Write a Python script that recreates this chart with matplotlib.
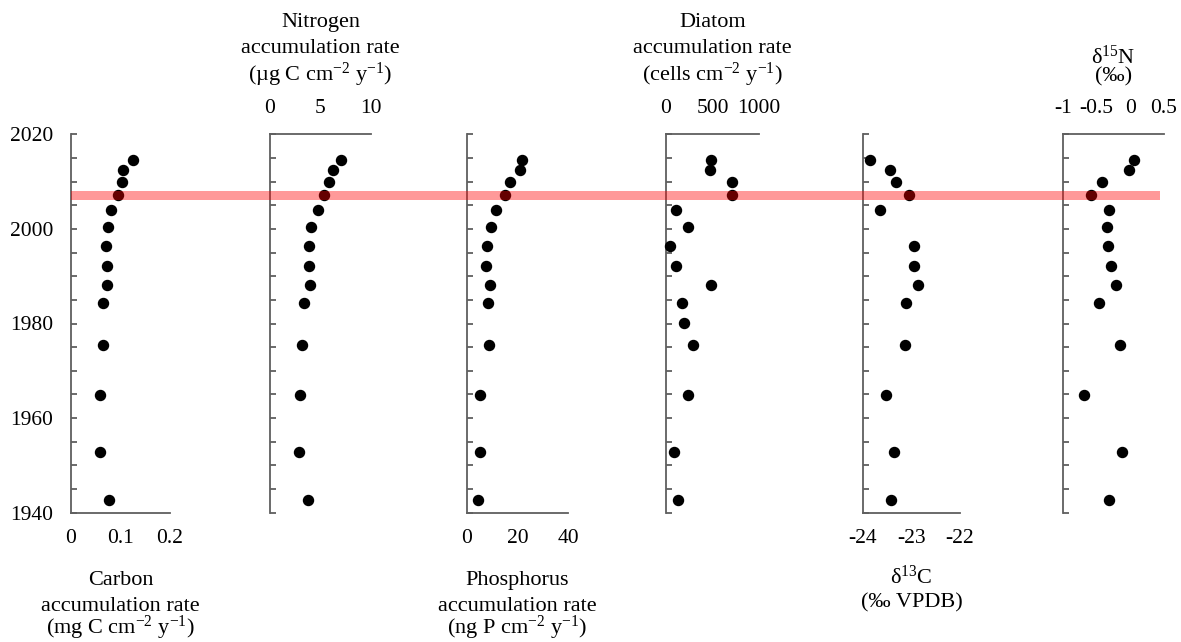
import numpy as np
import matplotlib
matplotlib.use("Agg")
import matplotlib.pyplot as plt
from matplotlib.patches import Rectangle
from matplotlib.transforms import blended_transform_factory

# sample ages (core depth -> year)
years = [2014.6, 2012.4, 2010.0, 2007.1, 2004.0, 2000.4, 1996.4, 1992.1,
         1988.2, 1984.4, 1975.4, 1964.8, 1952.9, 1942.7]
diatom_years = [2014.6, 2012.4, 2010.0, 2007.1, 2004.0, 2000.4, 1996.4, 1992.1,
                1988.2, 1984.4, 1980.1, 1975.4, 1964.8, 1952.9, 1942.7]
d13c_years = [2014.6, 2012.4, 2010.0, 2007.1, 2004.0, 1996.4, 1992.1,
              1988.2, 1984.4, 1975.4, 1964.8, 1952.9, 1942.7]

carbon = [0.126, 0.106, 0.103, 0.094, 0.081, 0.075, 0.071, 0.073, 0.072,
          0.064, 0.064, 0.059, 0.059, 0.077]
nitrogen = [7.0, 6.2, 5.8, 5.3, 4.8, 4.1, 3.9, 3.9, 4.0, 3.4, 3.2, 3.0, 2.9, 3.8]
phosphorus = [21.7, 20.8, 17.2, 14.9, 11.4, 9.5, 8.0, 7.5, 9.1, 8.2, 8.6,
              5.3, 5.3, 4.3]
diatom = [481, 474, 715, 715, 111, 241, 48, 104, 481, 174, 193, 289, 233, 81, 130]
d13c = [-23.85, -23.45, -23.32, -23.05, -23.64, -22.94, -22.94, -22.86,
        -23.11, -23.14, -23.53, -23.36, -23.43]
d15n = [0.056, -0.02, -0.42, -0.58, -0.32, -0.345, -0.33, -0.28, -0.21,
        -0.47, -0.15, -0.69, -0.12, -0.32]

event_year = 2007.1
event_halfwidth = 0.9

plt.rcParams['font.family'] = ['Liberation Serif', 'DejaVu Serif']
plt.rcParams['mathtext.fontset'] = 'custom'
plt.rcParams['mathtext.rm'] = 'Liberation Serif'
plt.rcParams['mathtext.it'] = 'Liberation Serif:italic'
plt.rcParams['mathtext.bf'] = 'Liberation Serif:bold'
plt.rcParams['font.size'] = 16

W, H = 1181, 642
fig = plt.figure(figsize=(W / 100, H / 100), dpi=100)

y_top, y_bot = 134.3, 512.7
sup2 = r'$^{\mathrm{-2}}$'
sup1 = r'$^{\mathrm{-1}}$'

panels = [
    # (data, years, xlim, xticks, ticklabels, left px, width px, top axis?, title lines)
    (carbon, years, (0, 0.2), [0, 0.1, 0.2], ['0', '0.1', '0.2'], 71, 99, False,
     ['Carbon', 'accumulation rate', '(mg C cm' + sup2 + ' y' + sup1 + ')']),
    (nitrogen, years, (0, 10), [0, 5, 10], ['0', '5', '10'], 270, 101, True,
     ['Nitrogen', 'accumulation rate', '(\u00b5g C cm' + sup2 + ' y' + sup1 + ')']),
    (phosphorus, years, (0, 40), [0, 20, 40], ['0', '20', '40'], 467, 101, False,
     ['Phosphorus', 'accumulation rate', '(ng P cm' + sup2 + ' y' + sup1 + ')']),
    (diatom, diatom_years, (0, 1000), [0, 500, 1000], ['0', '500', '1000'], 666, 93, True,
     ['Diatom', 'accumulation rate', '(cells cm' + sup2 + ' y' + sup1 + ')']),
    (d13c, d13c_years, (-24, -22), [-24, -23, -22], ['-24', '-23', '-22'], 863, 97, False,
     ['\u03b4' + r'$^{\mathrm{13}}$' + 'C', '(\u2030 VPDB)']),
    (d15n, years, (-1, 0.5), [-1, -0.5, 0, 0.5], ['-1', '-0.5', '0', '0.5'], 1063, 101, True,
     ['\u03b4' + r'$^{\mathrm{15}}$' + 'N', '(\u2030)']),
]

spine_color = '#5f5f5f'
axes = []
for vals, yrs, xlim, xt, xtl, left, width, top, title in panels:
    ax = fig.add_axes([left / W, 1 - y_bot / H, width / W, (y_bot - y_top) / H])
    ax.patch.set_alpha(0)
    ax.scatter(vals, yrs, s=52, color='black', zorder=3, clip_on=False)
    ax.set_xlim(*xlim)
    ax.set_ylim(1940, 2020)

    for side in ['left', 'right', 'top', 'bottom']:
        ax.spines[side].set_visible(False)
    ax.spines['left'].set_visible(True)
    ax.spines['left'].set_color(spine_color)
    ax.spines['left'].set_linewidth(1.3)
    xside = 'top' if top else 'bottom'
    ax.spines[xside].set_visible(True)
    ax.spines[xside].set_color(spine_color)
    ax.spines[xside].set_linewidth(1.3)

    ax.set_xticks(xt)
    ax.set_xticklabels(xtl)
    if top:
        ax.xaxis.tick_top()
    ax.tick_params(axis='x', length=0, pad=12, labelsize=15.5)

    ax.set_yticks(np.arange(1940, 2021, 5))
    ax.tick_params(axis='y', direction='in', length=4, width=1.3,
                   color=spine_color, pad=13, labelsize=15.5)
    if not axes:
        ax.set_yticklabels([str(y) if y % 20 == 0 else '' for y in range(1940, 2021, 5)])
    else:
        ax.set_yticklabels([])

    # axis title lines, centred over the panel
    cx = (left + width / 2) / W
    if top:
        baselines = [27, 53, 81]
        if len(title) == 2:
            baselines = [64, 81]
    else:
        baselines = [585, 611, 634]
        if len(title) == 2:
            baselines = [584, 607]
    for line, b in zip(title, baselines):
        fig.text(cx, 1 - b / H, line, ha='center', va='baseline', fontsize=16)
    axes.append(ax)

# horizontal marker across all panels
trans = blended_transform_factory(fig.transFigure, axes[0].transData)
band = Rectangle((71 / W, event_year - event_halfwidth), (1160 - 71) / W,
                 2 * event_halfwidth, transform=trans, facecolor='red',
                 edgecolor='none', alpha=0.4, zorder=10)
fig.add_artist(band)

fig.savefig('out.png', dpi=100)
